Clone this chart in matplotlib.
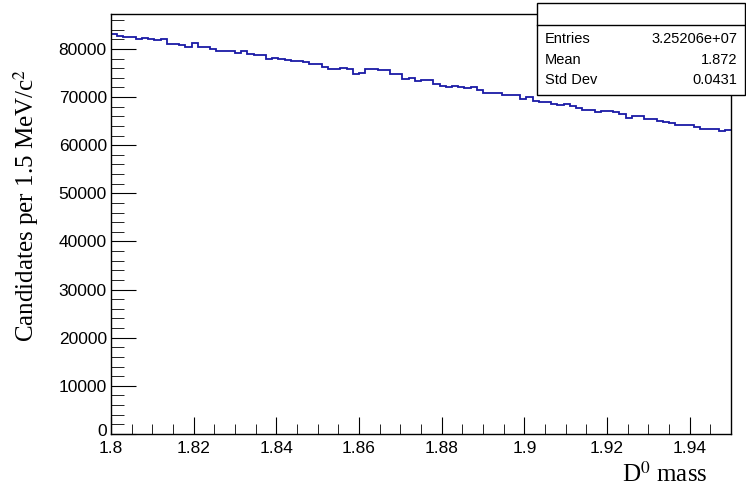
import numpy as np
import matplotlib

matplotlib.use("Agg")
import matplotlib.pyplot as plt
from matplotlib.patches import Rectangle
from matplotlib.lines import Line2D
from matplotlib.ticker import MultipleLocator, FuncFormatter

plt.rcParams["mathtext.fontset"] = "stix"

# D0 candidate mass histogram, 100 bins of 1.5 MeV between 1.80 and 1.95 GeV
mass_lo, mass_hi, n_bins = 1.80, 1.95, 100
counts = [
    83100, 82700, 82450, 82450, 82100, 82230, 82020, 81900, 82100, 80990,
    80990, 80850, 80430, 81200, 80430, 80300, 80000, 79600, 79600, 79600,
    79240, 79600, 78900, 78690, 78690, 77920, 78200, 77920, 77710, 77500,
    77500, 77290, 76800, 76800, 76300, 75880, 75880, 76090, 75800, 74850,
    74930, 75830, 75830, 75620, 75620, 74720, 74720, 73740, 74010, 73320,
    73600, 73600, 72750, 72340, 72070, 72340, 72070, 71860, 72130, 71370,
    70880, 70880, 70880, 70400, 70330, 70330, 69700, 70050, 69210, 69000,
    68870, 68660, 68300, 68520, 68100, 67820, 67260, 67260, 66850, 67120,
    67000, 66910, 66430, 65740, 66150, 66000, 65530, 65530, 65030, 64820,
    64610, 64190, 64190, 64190, 63780, 63440, 63440, 63440, 62940, 63230,
]
stat_names = ["Entries", "Mean", "Std Dev"]
stat_values = ["3.25206e+07", "1.872", "0.0431"]

W, H = 746, 491
fig = plt.figure(figsize=(W / 100, H / 100), dpi=100)
ax = fig.add_axes([111 / W, 1 - 434 / H, (731 - 111) / W, (434 - 14) / H])

edges = np.linspace(mass_lo, mass_hi, n_bins + 1)
ax.stairs(counts, edges, baseline=None, color="#1a1aa6", linewidth=1.3)

ax.set_xlim(mass_lo, mass_hi)
ax.set_ylim(0, max(counts) * 1.05)

for s in ax.spines.values():
    s.set_linewidth(1.0)
ax.xaxis.set_major_locator(MultipleLocator(0.02))
ax.xaxis.set_minor_locator(MultipleLocator(0.005))
ax.yaxis.set_major_locator(MultipleLocator(10000))
ax.yaxis.set_minor_locator(MultipleLocator(2000))
ax.xaxis.set_major_formatter(FuncFormatter(lambda v, p: f"{v:g}"))
# the "0" is drawn separately below, lifted a touch like ROOT does
ax.yaxis.set_major_formatter(FuncFormatter(lambda v, p: f"{v:.0f}" if v > 0 else ""))
ax.tick_params(which="both", direction="in", top=False, right=False,
               labelsize=12.5)
ax.tick_params(axis="x", which="major", length=12, pad=5)
ax.tick_params(axis="x", which="minor", length=7)
ax.tick_params(axis="y", which="major", length=18, pad=3)
ax.tick_params(axis="y", which="minor", length=9)
for lab in ax.get_xticklabels() + ax.get_yticklabels():
    lab.set_family("Liberation Sans")

ax.annotate("0", xy=(0, 0), xycoords=("axes fraction", "data"),
            xytext=(-4, 3), textcoords="offset pixels", ha="right", va="center",
            fontsize=12.5, family="Liberation Sans")

serif = "Liberation Serif"
fig.text(26 / W, 1 - 205 / H, "Candidates per 1.5 MeV/c$^{2}$", rotation=90,
         ha="center", va="center", fontsize=18, family=serif)
fig.text(708 / W, 1 - 482 / H, "D$^{0}$ mass", ha="right", va="baseline",
         fontsize=18, family=serif)

# stats box (ROOT style)
bx0, bx1, by0, by1, byh = 537, 745, 3, 95, 25
fig.patches.append(Rectangle((bx0 / W, 1 - by1 / H), (bx1 - bx0) / W, (by1 - by0) / H,
                             transform=fig.transFigure, facecolor="white",
                             edgecolor="black", linewidth=1.0, zorder=5))
fig.lines.append(Line2D([bx0 / W, bx1 / W], [1 - byh / H, 1 - byh / H],
                        transform=fig.transFigure, color="black", linewidth=1.0, zorder=6))
for i, (name, val) in enumerate(zip(stat_names, stat_values)):
    yy = 1 - (39 + i * 20.5) / H
    fig.text((bx0 + 8) / W, yy, name, ha="left", va="center", fontsize=10.5,
             family="Liberation Sans", zorder=7)
    fig.text((bx1 - 8) / W, yy, val, ha="right", va="center", fontsize=10.5,
             family="Liberation Sans", zorder=7)

fig.savefig("out.png", dpi=100)
